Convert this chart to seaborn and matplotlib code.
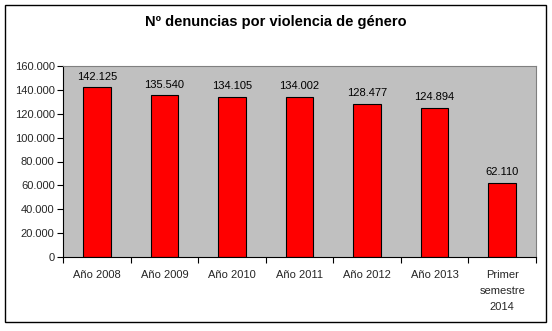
import matplotlib
matplotlib.use("Agg")
import matplotlib.pyplot as plt
import seaborn as sns
import pandas as pd
from matplotlib.ticker import FuncFormatter, FixedLocator
from matplotlib.patches import Rectangle

categories = ["Año 2008", "Año 2009", "Año 2010", "Año 2011", "Año 2012", "Año 2013",
              "Primer\nsemestre\n2014"]
values = [142125, 135540, 134105, 134002, 128477, 124894, 62110]
title = "Nº denuncias por violencia de género"

def fmt(v):
    return f"{int(round(v)):,}".replace(",", ".")

sns.set_theme(style="white")
plt.rcParams["font.family"] = ["Liberation Sans", "DejaVu Sans"]

fig = plt.figure(figsize=(5.52, 3.31), dpi=100)
W, H = 552, 331
ax = fig.add_axes([63 / W, 1 - 257 / H, (536 - 63) / W, (257 - 66) / H])
ax.set_facecolor("#C0C0C0")

df = pd.DataFrame({"cat": categories, "val": values})
sns.barplot(data=df, x="cat", y="val", color="#FF0000", edgecolor="black",
            linewidth=0.8, width=0.41, saturation=1, ax=ax)

ax.set_ylim(0, 160000)
ax.set_xlim(-0.5, len(categories) - 0.5)
ax.set_yticks(range(0, 160001, 20000))
ax.yaxis.set_major_formatter(FuncFormatter(lambda v, p: fmt(v)))
ax.tick_params(axis="y", direction="out", length=4, width=0.8, color="black",
               labelsize=8, pad=2, left=True)
ax.tick_params(axis="x", which="major", length=0, labelsize=8, pad=9)
ax.xaxis.set_minor_locator(FixedLocator([i - 0.5 for i in range(len(categories) + 1)]))
ax.tick_params(axis="x", which="minor", direction="out", length=4, width=0.8,
               color="black", bottom=True)
ax.set_xlabel("")
ax.set_ylabel("")
for lab in ax.get_xticklabels():
    lab.set_linespacing(1.75)
    lab.set_verticalalignment("top")

for s in ["left", "bottom"]:
    ax.spines[s].set_color("black")
    ax.spines[s].set_linewidth(0.8)
for s in ["top", "right"]:
    ax.spines[s].set_color("#808080")
    ax.spines[s].set_linewidth(0.8)

for i, v in enumerate(values):
    ax.annotate(fmt(v), (i, v), xytext=(0, 4), textcoords="offset points",
                ha="center", va="bottom", fontsize=8, color="black")

fig.text(0.5, 1 - 22 / H, title, ha="center", va="center", fontsize=10.5,
         fontweight="bold", color="black")

fig.patches.append(Rectangle((5 / W, 1 - 322 / H), (546 - 5) / W, (322 - 5) / H,
                             transform=fig.transFigure, fill=False,
                             edgecolor="black", linewidth=1.0))

fig.savefig("out.png", dpi=100, facecolor="white")
